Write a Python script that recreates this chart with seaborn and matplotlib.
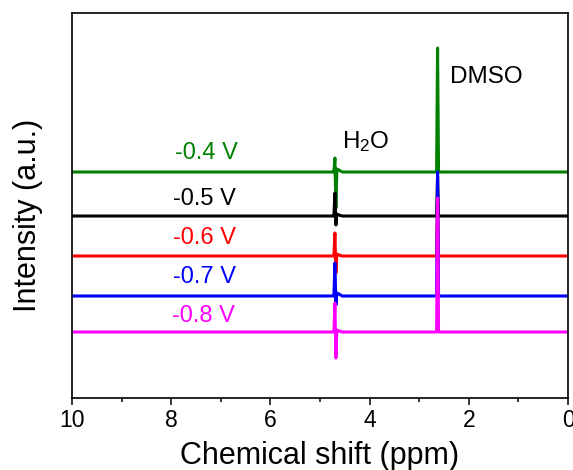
import numpy as np
import pandas as pd
import matplotlib
matplotlib.use("Agg")
import matplotlib.pyplot as plt
from matplotlib.ticker import MultipleLocator
import seaborn as sns

# ---- data (intensity in arbitrary stacked units) ----
ppm = [10.0, 4.76, 4.72, 4.70, 4.68, 4.66, 4.62, 4.55, 2.65, 2.63, 2.61, 0.0]
int_04 = [226, 226, 226, 240, 190, 229, 228, 226, 226, 350, 226, 226]   # -0.4 V
int_05 = [182, 182, 182, 205, 173, 184, 183, 182, 182, 222, 182, 182]   # -0.5 V
int_06 = [142, 142, 142, 165, 125, 144, 143, 142, 142, 200, 142, 142]   # -0.6 V
int_07 = [102, 102, 102, 135, 93, 105, 104, 102, 102, 226, 102, 102]    # -0.7 V
int_08 = [66, 66, 66, 95, 40, 68, 67, 66, 66, 200, 66, 66]              # -0.8 V
series_names = ["-0.4 V", "-0.5 V", "-0.6 V", "-0.7 V", "-0.8 V"]
series_vals = [int_04, int_05, int_06, int_07, int_08]
series_colors = ["#008000", "#000000", "#ff0000", "#0000ff", "#ff00ff"]
label_ppm = [7.92, 7.96, 7.96, 7.96, 7.98]
label_y = [245, 199, 160, 121, 82]

rows = []
for name, vals in zip(series_names, series_vals):
    for x, y in zip(ppm, vals):
        rows.append({"ppm": x, "intensity": y, "potential": name})
df = pd.DataFrame(rows)

sns.set_style("ticks")
plt.rcParams["font.family"] = ["Liberation Sans", "DejaVu Sans"]
plt.rcParams["mathtext.fontset"] = "custom"
plt.rcParams["mathtext.rm"] = "Liberation Sans"
plt.rcParams["text.color"] = "black"
plt.rcParams["axes.labelcolor"] = "black"
plt.rcParams["xtick.color"] = "black"
plt.rcParams["ytick.color"] = "black"

fig = plt.figure(figsize=(5.73, 4.70), dpi=100)
ax = fig.add_axes([0.1257, 0.1532, 0.8656, 0.8191])

for name, col in zip(series_names, series_colors):
    sns.lineplot(data=df[df["potential"] == name], x="ppm", y="intensity",
                 color=col, linewidth=2.2, ax=ax, estimator=None, sort=False)

for name, col, lx, ly in zip(series_names, series_colors, label_ppm, label_y):
    ax.text(lx, ly, name, color=col, fontsize=17, ha="left", va="center")

ax.text(2.38, 321, "DMSO", fontsize=17.5, ha="left", va="center", color="black")
ax.text(4.56, 256, r"H$\mathregular{_2}$O", fontsize=17.5, ha="left", va="center", color="black")

ax.set_xlim(10, 0)
ax.set_ylim(0, 385)
ax.xaxis.set_major_locator(MultipleLocator(2))
ax.xaxis.set_minor_locator(MultipleLocator(1))
ax.set_yticks([])
ax.tick_params(axis="x", which="major", direction="out", length=5, width=1.1,
               labelsize=16.5, pad=3, top=False, labelcolor="black")
ax.tick_params(axis="x", which="minor", direction="out", length=3, width=1.1, top=False)
for s in ax.spines.values():
    s.set_visible(True)
    s.set_linewidth(1.2)
    s.set_color("black")
ax.set_xlabel("Chemical shift (ppm)", fontsize=22, color="black")
ax.set_ylabel("Intensity (a.u.)", fontsize=22, color="black")
ax.xaxis.set_label_coords(0.5, -0.112)
ax.yaxis.set_label_coords(-0.058, 0.475)

fig.savefig("out.png", dpi=100)
